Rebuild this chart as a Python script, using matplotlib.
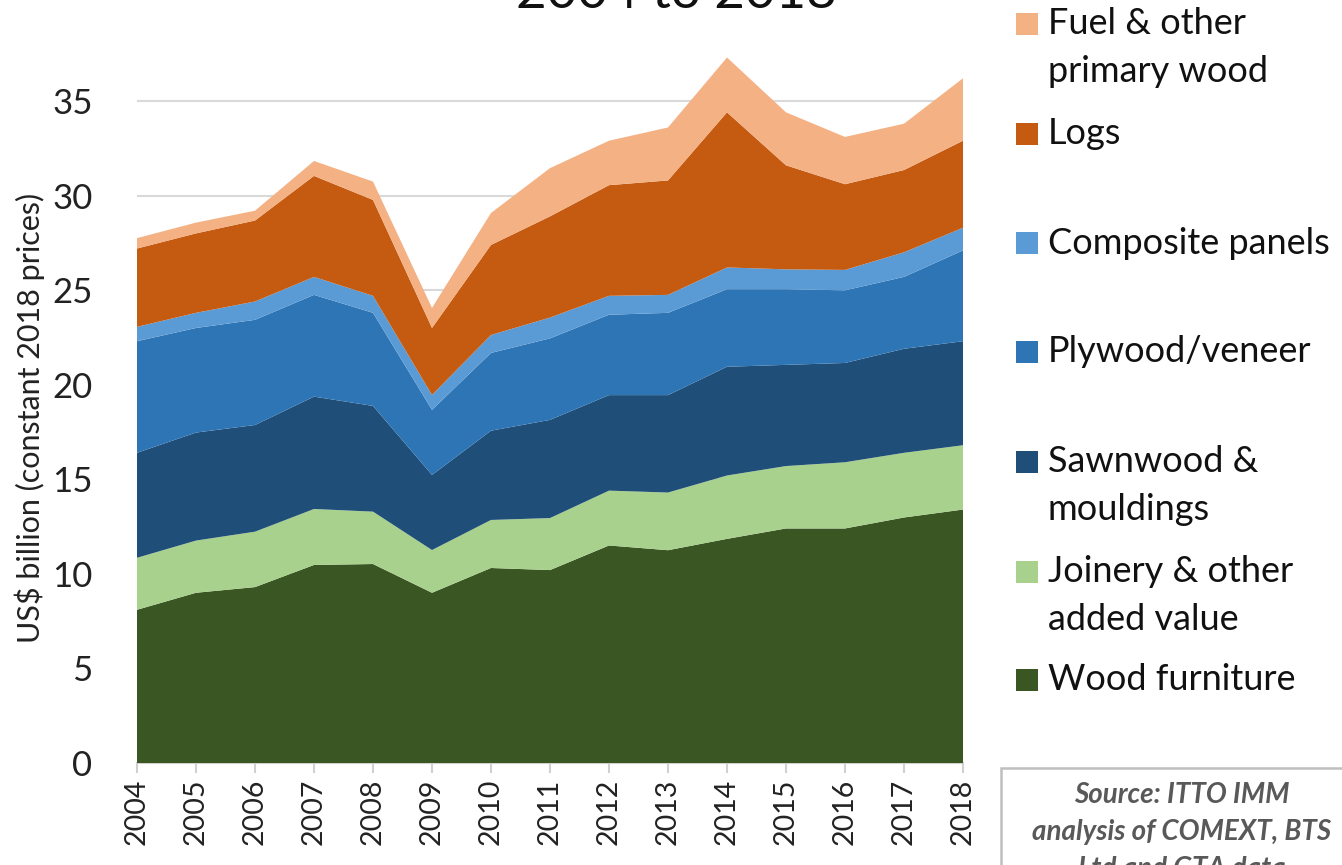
import matplotlib
matplotlib.use("Agg")
import matplotlib.pyplot as plt
from matplotlib.patches import Rectangle

plt.rcParams['font.family'] = ['Lato', 'DejaVu Sans']

# Data: US$ billion (constant 2018 prices)
years = list(range(2004, 2019))
wood_furniture = [8.10, 9.00, 9.30, 10.47, 10.52, 9.00, 10.31, 10.20, 11.50, 11.25, 11.85, 12.40, 12.40, 12.98, 13.40]
joinery = [2.75, 2.76, 2.93, 2.96, 2.77, 2.26, 2.54, 2.75, 2.90, 3.05, 3.35, 3.30, 3.50, 3.42, 3.40]
sawnwood = [5.55, 5.71, 5.64, 5.94, 5.59, 3.97, 4.72, 5.19, 5.05, 5.15, 5.75, 5.35, 5.25, 5.50, 5.50]
plywood = [5.90, 5.53, 5.56, 5.38, 4.92, 3.44, 4.11, 4.31, 4.25, 4.35, 4.10, 4.00, 3.84, 3.80, 4.80]
composite = [0.76, 0.80, 0.97, 0.95, 0.90, 0.79, 0.95, 1.10, 1.00, 0.95, 1.15, 1.05, 1.08, 1.30, 1.20]
logs = [4.14, 4.20, 4.28, 5.34, 5.07, 3.54, 4.76, 5.35, 5.85, 6.05, 8.20, 5.50, 4.53, 4.35, 4.60]
fuel = [0.55, 0.57, 0.52, 0.79, 0.97, 1.06, 1.69, 2.55, 2.35, 2.80, 2.90, 2.80, 2.50, 2.45, 3.30]

labels = ['Wood furniture', 'Joinery & other\nadded value', 'Sawnwood &\nmouldings',
          'Plywood/veneer', 'Composite panels', 'Logs', 'Fuel & other\nprimary wood']
colors = ['#3A5622', '#A9D18E', '#1F4E79', '#2E75B6', '#5B9BD5', '#C55A11', '#F4B183']

W, H = 1342, 865
fig = plt.figure(figsize=(W / 100, H / 100), dpi=100)


def fx(px):
    return px / W


def fy(py):
    return 1 - py / H


ymax = 39.5
ax_left, ax_right, ax_bottom = 137, 963, 763
ax_top = ax_bottom - ymax * (763 - 101) / 35
ax = fig.add_axes([fx(ax_left), fy(ax_bottom), fx(ax_right - ax_left), (ax_bottom - ax_top) / H])

ax.stackplot(years, wood_furniture, joinery, sawnwood, plywood, composite, logs, fuel,
             colors=colors, linewidth=0)

ax.set_xlim(2004, 2018)
ax.set_ylim(0, ymax)
ax.set_yticks(range(0, 40, 5))
ax.set_xticks(years)
ax.set_xticklabels([str(y) for y in years], rotation=90, fontsize=20.5)
ax.tick_params(axis='y', length=0, labelsize=25, pad=32, colors='#222222')
ax.tick_params(axis='x', length=7.5, width=1.5, color='#D0D0D0', pad=4, labelcolor='#222222')
ax.grid(axis='y', color='#D9D9D9', linewidth=1.5)
ax.set_axisbelow(True)
for side in ['top', 'right', 'left']:
    ax.spines[side].set_visible(False)
ax.spines['bottom'].set_color('#D0D0D0')
ax.spines['bottom'].set_linewidth(1.5)
ax.spines['bottom'].set_zorder(0.5)

# Y axis title, placed as in the reference
fig.text(fx(30), fy(418), 'US$ billion (constant 2018 prices)', fontsize=22, rotation=90,
         ha='center', va='center', color='#222222')

# Title, cut off at the top in the reference
fig.text(fx(676), fy(8), '2004 to 2018', fontsize=38, ha='center', va='baseline', color='#111111')

# Legend, top to bottom
legend_y = [680, 572, 462, 352, 243, 134, 24]
line_h = 47
for lab, col, yc in zip(labels, colors, legend_y):
    fig.add_artist(Rectangle((fx(1016), fy(yc + 11)), fx(22), 22 / H,
                             transform=fig.transFigure, facecolor=col, edgecolor='none'))
    for i, line in enumerate(lab.split('\n')):
        fig.text(fx(1048), fy(yc + i * line_h), line, fontsize=26,
                 ha='left', va='center', color='#111111')

# Source box, cut off at the bottom
fig.add_artist(Rectangle((fx(1001), fy(900)), fx(400), 132 / H, transform=fig.transFigure,
                         facecolor='white', edgecolor='#BFBFBF', linewidth=1.8))
source_lines = ['Source: ITTO IMM', 'analysis of COMEXT, BTS', 'Ltd and GTA data']
for i, line in enumerate(source_lines):
    fig.text(fx(1182), fy(795 + i * 37), line, fontsize=20, style='italic', weight='bold',
             ha='center', va='center', color='#595959')

fig.savefig('out.png', dpi=100)
